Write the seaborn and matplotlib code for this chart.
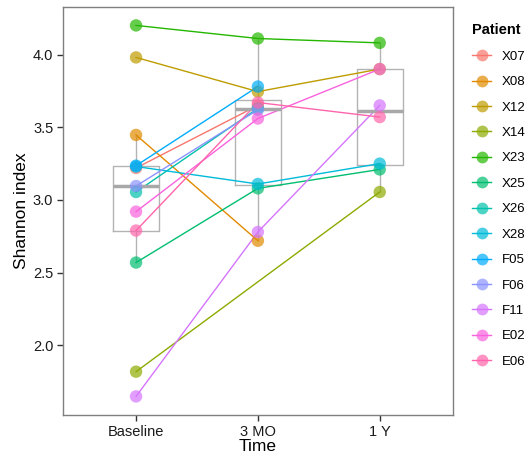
import numpy as np
import pandas as pd
import seaborn as sns
import matplotlib.pyplot as plt
from matplotlib.lines import Line2D

# categories and values
times = ["Baseline", "3 MO", "1 Y"]
patients = ["X07", "X08", "X12", "X14", "X23", "X25", "X26",
            "X28", "F05", "F06", "F11", "E02", "E06"]
colors = ["#F8766D", "#E18A00", "#BE9C00", "#8CAB00", "#24B700", "#00BE70", "#00C1AB",
          "#00BBDA", "#00ACFC", "#8B93FF", "#D575FE", "#F962DD", "#FF65AC"]

baseline = [3.22, 3.447, 3.98, 1.82, 4.20, 2.57, 3.055, 3.23, 3.236, 3.096, 1.65, 2.92, 2.79]
month3 = [3.65, 2.72, 3.745, np.nan, 4.11, 3.08, 3.63, 3.11, 3.78, 3.62, 2.78, 3.56, 3.67]
year1 = [np.nan, np.nan, 3.90, 3.055, 4.08, 3.21, np.nan, 3.25, np.nan, np.nan, 3.65, 3.90, 3.57]


def build_df():
    frames = []
    for t, vals in zip(times, [baseline, month3, year1]):
        frames.append(pd.DataFrame({"Patient": patients, "Time": t, "Shannon": vals}))
    df = pd.concat(frames, ignore_index=True).dropna()
    df["pos"] = df["Time"].map({t: i for i, t in enumerate(times)})
    return df


def main():
    plt.rcParams["font.family"] = ["Liberation Sans", "DejaVu Sans"]
    df = build_df()
    pal = dict(zip(patients, colors))

    fig = plt.figure(figsize=(5.29, 4.58), dpi=100)
    ax = fig.add_axes([0.119, 0.094, 0.737, 0.891])

    sns.boxplot(data=df, x="pos", y="Shannon", native_scale=True, showfliers=False,
                showcaps=False, fill=False, color="#b3b3b3", width=0.375, linewidth=1,
                medianprops=dict(linewidth=2.5, color="#a8a8a8"), ax=ax)

    sns.lineplot(data=df, x="pos", y="Shannon", hue="Patient", hue_order=patients,
                 palette=pal, estimator=None, sort=True, linewidth=1,
                 legend=False, ax=ax, zorder=2)
    sns.scatterplot(data=df, x="pos", y="Shannon", hue="Patient", hue_order=patients,
                    palette=pal, s=80, alpha=0.7, linewidth=0, legend=False,
                    ax=ax, zorder=3)

    ax.set_xlim(-0.6, 2.6)
    ax.set_ylim(1.5225, 4.3275)
    ax.set_xticks(range(len(times)))
    ax.set_xticklabels(times)
    ax.set_yticks([2.0, 2.5, 3.0, 3.5, 4.0])
    ax.set_yticklabels(["2.0", "2.5", "3.0", "3.5", "4.0"])
    ax.tick_params(labelsize=10.5, length=4, width=1, color="#333333",
                   labelcolor="#1a1a1a", pad=3)
    ax.set_xlabel("Time", fontsize=12.5, labelpad=0)
    ax.set_ylabel("Shannon index", fontsize=12.5, labelpad=3)
    for sp in ax.spines.values():
        sp.set_color("#7f7f7f")
        sp.set_linewidth(1)
    ax.grid(False)

    handles = []
    for c in colors:
        ln = Line2D([0], [0], color=c, linewidth=1)
        mk = Line2D([0], [0], color=c, marker="o", markersize=8.5, alpha=0.7,
                    linestyle="none", markeredgewidth=0)
        handles.append((ln, mk))
    fig.legend(handles, patients, title="Patient", loc="upper left",
               bbox_to_anchor=(467 / 529, 1 - 18 / 458), frameon=False, fontsize=9.5,
               title_fontproperties={"weight": "bold", "size": 10.5},
               labelspacing=1.0, handlelength=1.4, handletextpad=0.85,
               alignment="left", borderaxespad=0)

    plt.savefig("out.png", dpi=100)
    plt.close()


if __name__ == "__main__":
    main()
